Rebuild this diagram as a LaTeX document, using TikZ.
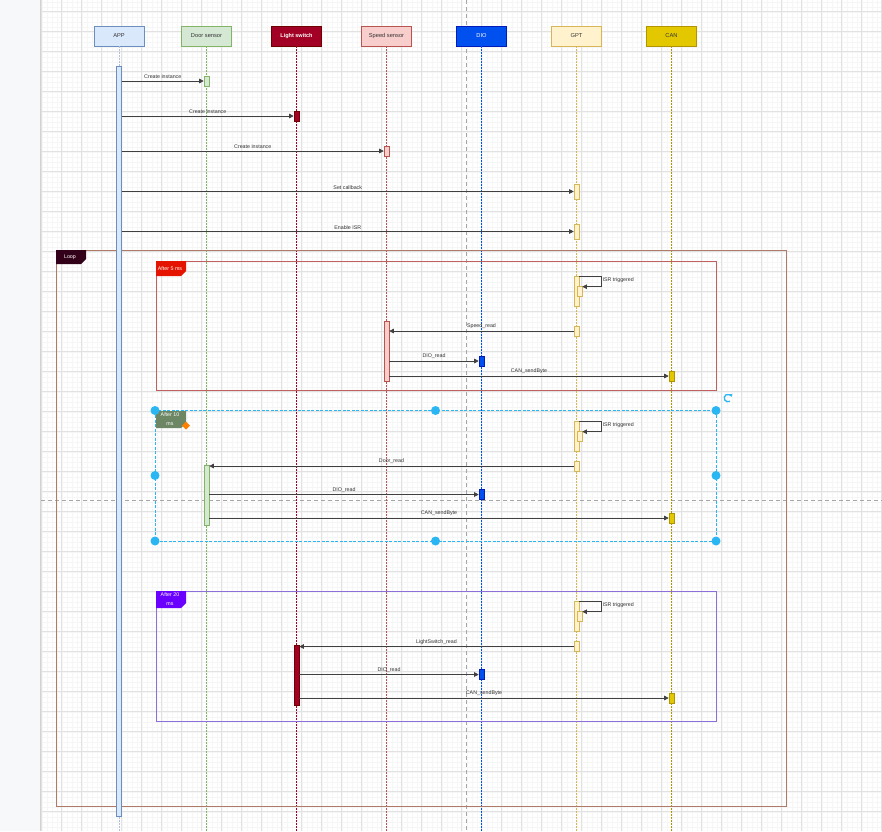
\documentclass[tikz,border=0pt]{standalone}
\usepackage{fontspec}
\setmainfont{Liberation Sans}
\usetikzlibrary{arrows.meta}
\definecolor{appfill}{HTML}{DAE8FC}
\definecolor{appline}{HTML}{6C8EBF}
\definecolor{doorfill}{HTML}{D5E8D4}
\definecolor{doorline}{HTML}{82B366}
\definecolor{lightfill}{HTML}{A20025}
\definecolor{lightline}{HTML}{6F0000}
\definecolor{speedfill}{HTML}{F8CECC}
\definecolor{speedline}{HTML}{B85450}
\definecolor{diofill}{HTML}{0050EF}
\definecolor{dioline}{HTML}{001DBC}
\definecolor{gptfill}{HTML}{FFF2CC}
\definecolor{gptline}{HTML}{D6B656}
\definecolor{canfill}{HTML}{E3C800}
\definecolor{canline}{HTML}{B09500}
\definecolor{loopc}{HTML}{AD7B68}
\definecolor{loopdark}{HTML}{33001A}
\definecolor{frame5c}{HTML}{C0605F}
\definecolor{tag5}{HTML}{E51400}
\definecolor{tag10}{HTML}{6D8764}
\definecolor{frame20c}{HTML}{8C6FD9}
\definecolor{tag20}{HTML}{6A00FF}
\definecolor{selc}{HTML}{29B6F2}
\definecolor{msgc}{HTML}{404040}
\definecolor{txtc}{HTML}{333333}
\definecolor{gridmajor}{HTML}{E2E2E2}
\definecolor{gridminor}{HTML}{F6F6F6}
\definecolor{stripc}{HTML}{F7F8FA}

\begin{document}
\begin{tikzpicture}[x=1pt, y=-1pt,
    every node/.style={font=\fontsize{5.3}{6.2}\selectfont},
    head/.style={draw, line width=0.8pt, minimum width=50pt, minimum height=20pt,
      inner sep=0pt, text=txtc, font=\fontsize{5.7}{6.5}\selectfont},
    life/.style={line width=0.6pt, dash pattern=on 1.5pt off 1.5pt},
    act/.style={draw, line width=0.6pt, minimum width=5pt, inner sep=0pt},
    msg/.style={draw=msgc, line width=0.6pt, -{Triangle[length=4.5pt, width=4.5pt]}},
    lbl/.style={text=txtc, inner sep=1pt},
    frametag/.style={text=white, align=center, inner sep=0pt,
      font=\fontsize{5.3}{8.3}\selectfont}]

  \useasboundingbox (0,0) rectangle (882,831);

  % canvas
  \fill[stripc] (0,0) rectangle (40,831);
  \fill[white] (40,0) rectangle (882,831);
  \draw[gray!35, line width=0.8pt] (40.5,0) -- (40.5,831);
  \foreach \gx in {41.7,46.7,...,882} \draw[gridminor, line width=0.4pt] (\gx,0) -- (\gx,831);
  \foreach \gy in {1.7,6.7,...,831} \draw[gridminor, line width=0.4pt] (41,\gy) -- (882,\gy);
  \foreach \gx in {41.7,61.7,...,882} \draw[gridmajor, line width=0.8pt] (\gx,0) -- (\gx,831);
  \foreach \gy in {11.7,31.7,...,831} \draw[gridmajor, line width=0.8pt] (41,\gy) -- (882,\gy);
  \draw[gray!70, line width=0.6pt, dash pattern=on 4pt off 3pt] (466.3,0) -- (466.3,831);
  \draw[gray!70, line width=0.6pt, dash pattern=on 4pt off 3pt] (41,500.5) -- (882,500.5);

  % lifeline heads
  \node[head, fill=appfill, draw=appline] (app) at (119,36) {APP};
  \node[head, fill=doorfill, draw=doorline] (door) at (206.5,36) {Door sensor};
  \node[head, fill=lightfill, draw=lightline, text=white,
    font=\bfseries\fontsize{5.5}{6.5}\selectfont] (light) at (296.5,36) {Light switch};
  \node[head, fill=speedfill, draw=speedline] (speed) at (386.5,36) {Speed sensor};
  \node[head, fill=diofill, draw=dioline, text=white] (dio) at (481.5,36) {DIO};
  \node[head, fill=gptfill, draw=gptline] (gpt) at (576.5,36) {GPT};
  \node[head, fill=canfill, draw=canline] (can) at (671.5,36) {CAN};

  \draw[life, appline!55] (app.south) -- (app.south |- 0,831);
  \foreach \n/\c in {door/doorline, light/lightfill, speed/speedline, dio/diofill, gpt/gptline, can/canline}
    \draw[life, \c] (\n.south) -- (\n.south |- 0,831);

  % fragments
  \draw[loopc, line width=0.8pt] (56,250) rectangle (786,806);
  \fill[loopdark] (56,250) -- (86,250) -- (86,259) -- (81,264) -- (56,264) -- cycle;
  \node[frametag] (looptag) at (70,257) {Loop};

  \draw[frame5c, line width=0.8pt] (156,261) rectangle (716,390);
  \fill[tag5] (156,261) -- (186,261) -- (186,271) -- (181,276) -- (156,276) -- cycle;
  \node[frametag] (tag5ms) at (170,268.5) {After 5 ms};

  \draw[selc, line width=0.8pt, dash pattern=on 3pt off 1.5pt] (155,410.5) rectangle (716,541);
  \fill[tag10] (156,411) -- (186,411) -- (186,423) -- (181,428) -- (156,428) -- cycle;
  \node[frametag] (tag10ms) at (170,419) {After 10\\ms};

  \draw[frame20c, line width=0.8pt] (156,591) rectangle (716,721);
  \fill[tag20] (156,591) -- (186,591) -- (186,603) -- (181,608) -- (156,608) -- cycle;
  \node[frametag] (tag20ms) at (170,599) {After 20\\ms};

  % setup
  \node[act, fill=appfill, draw=appline, minimum height=750pt] (appbar) at (app |- 0,441) {};
  \node[act, fill=doorfill, draw=doorline, minimum height=10pt] (door1) at (door |- 0,81) {};
  \node[act, fill=lightfill, draw=lightline, minimum height=10pt] (light1) at (light |- 0,116) {};
  \node[act, fill=speedfill, draw=speedline, minimum height=10pt] (speed1) at (speed |- 0,151) {};
  \node[act, fill=gptfill, draw=gptline, minimum height=15pt] (gpt1) at (gpt |- 0,191.5) {};
  \node[act, fill=gptfill, draw=gptline, minimum height=15pt] (gpt2) at (gpt |- 0,231.5) {};

  \draw[msg] (appbar.east |- door1) -- (door1.west) node[lbl, midway, above=1pt] {Create instance};
  \draw[msg] (appbar.east |- light1) -- (light1.west) node[lbl, midway, above=1pt] {Create instance};
  \draw[msg] (appbar.east |- speed1) -- (speed1.west) node[lbl, midway, above=1pt] {Create instance};
  \draw[msg] (appbar.east |- gpt1) -- (gpt1.west) node[lbl, midway, above=1pt] {Set callback};
  \draw[msg] (appbar.east |- gpt2) -- (gpt2.west) node[lbl, midway, above=1pt] {Enable ISR};

  % after 5 ms
  \node[act, fill=gptfill, draw=gptline, minimum height=30pt] (gpt5a) at (gpt |- 0,291) {};
  \node[act, fill=gptfill, draw=gptline, minimum height=10pt] (gpt5i) at ([xshift=3pt]gpt5a) {};
  \node[act, fill=gptfill, draw=gptline, minimum height=10pt] (gpt5b) at (gpt |- 0,331) {};
  \node[act, fill=speedfill, draw=speedline, minimum height=60pt] (speed5) at (speed |- 0,351) {};
  \node[act, fill=diofill, draw=dioline, minimum height=10pt] (dio5) at (dio |- 0,361) {};
  \node[act, fill=canfill, draw=canline, minimum height=10pt] (can5) at (can |- 0,376) {};

  \draw[msg] ([yshift=-1pt]gpt5a.north east) -- ++(22,0) node[lbl, anchor=north west] {ISR triggered}
    |- ([yshift=-1pt]gpt5i.north east);
  \draw[msg] (gpt5b.west) -- (speed5.east |- gpt5b) node[lbl, midway, above=1pt] {Speed\_read};
  \draw[msg] (speed5.east |- dio5) -- (dio5.west) node[lbl, midway, above=1pt] {DIO\_read};
  \draw[msg] (speed5.east |- can5) -- (can5.west) node[lbl, midway, above=1pt] {CAN\_sendByte};

  % after 10 ms
  \node[act, fill=gptfill, draw=gptline, minimum height=30pt] (gpt10a) at (gpt |- 0,436) {};
  \node[act, fill=gptfill, draw=gptline, minimum height=10pt] (gpt10i) at ([xshift=3pt]gpt10a) {};
  \node[act, fill=gptfill, draw=gptline, minimum height=10pt] (gpt10b) at (gpt |- 0,466) {};
  \node[act, fill=doorfill, draw=doorline, minimum height=60pt] (door10) at (door |- 0,495) {};
  \node[act, fill=diofill, draw=dioline, minimum height=10pt] (dio10) at (dio |- 0,494.5) {};
  \node[act, fill=canfill, draw=canline, minimum height=10pt] (can10) at (can |- 0,518) {};

  \draw[msg] ([yshift=-1pt]gpt10a.north east) -- ++(22,0) node[lbl, anchor=north west] {ISR triggered}
    |- ([yshift=-1pt]gpt10i.north east);
  \draw[msg] (gpt10b.west) -- (door10.east |- gpt10b) node[lbl, midway, above=1pt] {Door\_read};
  \draw[msg] (door10.east |- dio10) -- (dio10.west) node[lbl, midway, above=1pt] {DIO\_read};
  \draw[msg] (door10.east |- can10) -- (can10.west) node[lbl, midway, above=1pt] {CAN\_sendByte};

  % selection handles
  \foreach \hx/\hy in {155/410.5, 435.5/410.5, 716/410.5, 155/475.5, 716/475.5, 155/541, 435.5/541, 716/541}
    \fill[selc] (\hx,\hy) circle (4.5);
  \fill[orange] (186,421.5) -- (190,425.5) -- (186,429.5) -- (182,425.5) -- cycle;
  \draw[selc, line width=1.3pt, -{Triangle[length=2.5pt, width=3.5pt]}] (728,398) ++(60:3.8)
    arc[start angle=60, end angle=340, radius=3.8];

  % after 20 ms
  \node[act, fill=gptfill, draw=gptline, minimum height=30pt] (gpt20a) at (gpt |- 0,616) {};
  \node[act, fill=gptfill, draw=gptline, minimum height=10pt] (gpt20i) at ([xshift=3pt]gpt20a) {};
  \node[act, fill=gptfill, draw=gptline, minimum height=10pt] (gpt20b) at (gpt |- 0,646.5) {};
  \node[act, fill=lightfill, draw=lightline, minimum height=60pt] (light20) at (light |- 0,675) {};
  \node[act, fill=diofill, draw=dioline, minimum height=10pt] (dio20) at (dio |- 0,674.5) {};
  \node[act, fill=canfill, draw=canline, minimum height=10pt] (can20) at (can |- 0,698) {};

  \draw[msg] ([yshift=-1pt]gpt20a.north east) -- ++(22,0) node[lbl, anchor=north west] {ISR triggered}
    |- ([yshift=-1pt]gpt20i.north east);
  \draw[msg] (gpt20b.west) -- (light20.east |- gpt20b) node[lbl, midway, above=1pt] {LightSwitch\_read};
  \draw[msg] (light20.east |- dio20) -- (dio20.west) node[lbl, midway, above=1pt] {DIO\_read};
  \draw[msg] (light20.east |- can20) -- (can20.west) node[lbl, midway, above=1pt] {CAN\_sendByte};

\end{tikzpicture}
\end{document}
